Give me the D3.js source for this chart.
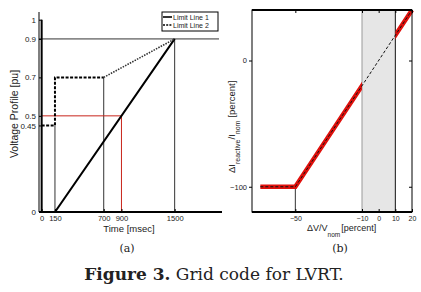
<!DOCTYPE html>
<html>
<head>
<meta charset="utf-8">
<script src="https://cdn.jsdelivr.net/npm/d3@7"></script>
<style>
  body { margin: 0; background: #fff; }
  svg text { font-family: "Liberation Sans", Arial, sans-serif; fill: #222; }
  .serif { font-family: "DejaVu Serif", "Liberation Serif", serif; }
</style>
</head>
<body>
<div id="chart"></div>
<script>

// ---- panel (a): voltage profile limit lines
const timeTicks = [0, 150, 700, 900, 1500];
const voltTicks = [0, 0.45, 0.5, 0.7, 0.9, 1];
const limitLine1 = [[0, 1], [0, 0], [150, 0], [1500, 0.9]];
const limitLine2 = [[0, 0.45], [150, 0.45], [150, 0.7], [700, 0.7]];
const limitLine2Ramp = [[700, 0.7], [1500, 0.9]];
const redGuide = [[0, 0.5], [900, 0.5], [900, 0]];
const blackGuides = [
    [[150, 0.45], [150, 0]],
    [[700, 0.7], [700, 0]],
    [[1500, 0.9], [1500, 0]],
    [[-30, 0.9], [2000, 0.9]]
];
const legendNames = ["Limit Line 1", "Limit Line 2"];

// ---- panel (b): reactive current characteristic
const dvTicks = [-50, -10, 0, 10, 20];
const diTicks = [-100, 0];
const characteristic = [[-71, -100], [-50, -100], [20, 40]];
const deadBand = [-10, 10];
const kneeGuide = [[-50, -100], [-50, -120]];

function lvrtFigure(options) {

    const {
        parentId = 'chart',
        width = 421,
        height = 292
    } = options;

    var svg = d3.select('#' + parentId)
        .append('svg')
        .attr('width', width)
        .attr('height', height);

    // ================= (a)
    var xa = d3.scaleLinear().domain([-30, 2000]).range([39, 219]);
    var ya = d3.scaleLinear().domain([0, 1.04]).range([212, 12]);
    var la = d3.line().x(d => xa(d[0])).y(d => ya(d[1]));

    var ga = svg.append("g");

    blackGuides.forEach(g => {
        ga.append("path").attr("d", la(g))
            .attr("fill", "none").attr("stroke", "#333").attr("stroke-width", 1);
    });

    ga.append("path").attr("d", la(redGuide))
        .attr("fill", "none").attr("stroke", "#c8241a").attr("stroke-width", 1);

    ga.append("path").attr("d", la(limitLine1))
        .attr("fill", "none").attr("stroke", "#000").attr("stroke-width", 2);

    ga.append("path").attr("d", la(limitLine2))
        .attr("fill", "none").attr("stroke", "#000").attr("stroke-width", 2)
        .attr("stroke-dasharray", "3,1.5");

    ga.append("path").attr("d", la(limitLine2Ramp))
        .attr("fill", "none").attr("stroke", "#333").attr("stroke-width", 1.6)
        .attr("stroke-dasharray", "1.5,1.2");

    // axes
    ga.append("g")
        .attr("transform", "translate(" + xa(-30) + ",0)")
        .call(d3.axisLeft(ya).tickValues(voltTicks).tickFormat(d3.format("")).tickSizeInner(-3).tickSizeOuter(0).tickPadding(3))
        .call(g => g.select(".domain").remove())
        .call(g => g.selectAll("text").style("font-size", "8px"));

    ga.append("line")
        .attr("x1", xa(-30)).attr("x2", xa(-30))
        .attr("y1", ya(1.04)).attr("y2", ya(0))
        .attr("stroke", "#000").attr("stroke-width", 1);

    ga.append("g")
        .attr("transform", "translate(0," + ya(0) + ")")
        .call(d3.axisBottom(xa).tickValues(timeTicks).tickFormat(d3.format("d")).tickSizeInner(-3).tickSizeOuter(0).tickPadding(4))
        .call(g => g.select(".domain").remove())
        .call(g => g.selectAll("text").style("font-size", "7.6px"));

    ga.append("line")
        .attr("x1", xa(-30)).attr("x2", 222)
        .attr("y1", ya(0)).attr("y2", ya(0))
        .attr("stroke", "#000").attr("stroke-width", 2);

    ga.append("text")
        .attr("transform", "translate(18," + 114 + ") rotate(-90)")
        .attr("text-anchor", "middle")
        .style("font-size", "10.5px")
        .text("Voltage Profile [pu]");

    ga.append("text")
        .attr("x", 129).attr("y", 232)
        .attr("text-anchor", "middle")
        .style("font-size", "9.5px")
        .text("Time [msec]");

    // legend
    var lg = ga.append("g").attr("transform", "translate(162,12)");
    lg.append("rect").attr("width", 56).attr("height", 19)
        .attr("fill", "#fff").attr("stroke", "#000").attr("stroke-width", 1);
    legendNames.forEach((n, i) => {
        lg.append("line").attr("x1", 1).attr("x2", 10)
            .attr("y1", 5 + i * 8).attr("y2", 5 + i * 8)
            .attr("stroke", "#000").attr("stroke-width", 1.6)
            .attr("stroke-dasharray", i ? "2,1.2" : null);
        lg.append("text").attr("x", 11).attr("y", 7.5 + i * 8)
            .style("font-size", "7px").text(n);
    });

    // ================= (b)
    var xb = d3.scaleLinear().domain([-76, 20]).range([252, 412]);
    var yb = d3.scaleLinear().domain([-120, 40]).range([212, 10]);
    var lb = d3.line().x(d => xb(d[0])).y(d => yb(d[1]));

    var gb = svg.append("g");

    gb.append("rect")
        .attr("x", xb(deadBand[0])).attr("y", yb(40))
        .attr("width", xb(deadBand[1]) - xb(deadBand[0]))
        .attr("height", yb(-120) - yb(40))
        .attr("fill", "#e6e6e6");
    gb.append("line")
        .attr("x1", xb(deadBand[0])).attr("x2", xb(deadBand[0]))
        .attr("y1", yb(40)).attr("y2", yb(-120))
        .attr("stroke", "#999").attr("stroke-width", 1);
    gb.append("line")
        .attr("x1", xb(deadBand[1])).attr("x2", xb(deadBand[1]))
        .attr("y1", yb(40)).attr("y2", yb(-120))
        .attr("stroke", "#111").attr("stroke-width", 1);

    gb.append("path").attr("d", lb(kneeGuide))
        .attr("fill", "none").attr("stroke", "#333").attr("stroke-width", 1);

    var defs = svg.append("defs");
    var clip = defs.append("clipPath").attr("id", "outsideBand");
    clip.append("rect")
        .attr("x", xb(-76)).attr("y", yb(40))
        .attr("width", xb(deadBand[0]) - xb(-76)).attr("height", yb(-120) - yb(40));
    clip.append("rect")
        .attr("x", xb(deadBand[1])).attr("y", yb(40))
        .attr("width", xb(20) - xb(deadBand[1]) + 2).attr("height", yb(-120) - yb(40));

    gb.append("path").attr("d", lb(characteristic))
        .attr("clip-path", "url(#outsideBand)")
        .attr("fill", "none").attr("stroke", "#e0100c").attr("stroke-width", 4.5);

    gb.append("path").attr("d", lb(characteristic))
        .attr("fill", "none").attr("stroke", "#111").attr("stroke-width", 1)
        .attr("stroke-dasharray", "3,2");

    // frame and axes
    gb.append("g")
        .attr("transform", "translate(" + xb(-76) + ",0)")
        .call(d3.axisLeft(yb).tickValues(diTicks).tickSizeInner(3).tickSizeOuter(0).tickPadding(2))
        .call(g => g.select(".domain").remove())
        .call(g => g.selectAll("text").style("font-size", "7.5px"));
    gb.append("g")
        .attr("transform", "translate(" + xb(20) + ",0)")
        .call(d3.axisLeft(yb).tickValues(diTicks).tickSizeInner(3).tickSizeOuter(0).tickFormat(""))
        .call(g => g.select(".domain").remove());
    gb.append("g")
        .attr("transform", "translate(0," + yb(-120) + ")")
        .call(d3.axisBottom(xb).tickValues(dvTicks).tickSizeInner(-3).tickSizeOuter(0).tickPadding(4))
        .call(g => g.select(".domain").remove())
        .call(g => g.selectAll("text").style("font-size", "7px"));
    gb.append("g")
        .attr("transform", "translate(0," + yb(40) + ")")
        .call(d3.axisTop(xb).tickValues(dvTicks).tickSizeInner(-3).tickSizeOuter(0).tickFormat(""))
        .call(g => g.select(".domain").remove());

    gb.append("rect")
        .attr("x", xb(-76)).attr("y", yb(40))
        .attr("width", xb(20) - xb(-76)).attr("height", yb(-120) - yb(40))
        .attr("fill", "none").attr("stroke", "#000").attr("stroke-width", 1);
    [40, -120].forEach(v => {
        gb.append("line")
            .attr("x1", xb(-76)).attr("x2", xb(20))
            .attr("y1", yb(v)).attr("y2", yb(v))
            .attr("stroke", "#000").attr("stroke-width", 2);
    });

    var xt = gb.append("text")
        .attr("x", 307).attr("y", 231)
        .style("font-size", "9px");
    xt.append("tspan").text("\u0394V/V");
    xt.append("tspan").attr("dy", 6).style("font-size", "6.5px").text("nom");
    xt.append("tspan").attr("dy", -6).attr("dx", 1).text("[percent]");

    var yt = gb.append("text")
        .attr("transform", "translate(235,173) rotate(-90)")
        .style("font-size", "9.5px");
    yt.append("tspan").text("\u0394I");
    yt.append("tspan").attr("dy", 5).style("font-size", "7px").text("reactive");
    yt.append("tspan").attr("dy", -5).text("/I");
    yt.append("tspan").attr("dy", 5).style("font-size", "7px").text("nom");
    yt.append("tspan").attr("dy", -5).attr("dx", 3).text("[percent]");

    // ================= labels and caption
    svg.append("text").attr("class", "serif")
        .attr("x", 127).attr("y", 252).attr("text-anchor", "middle")
        .style("font-size", "11px").text("(a)");
    svg.append("text").attr("class", "serif")
        .attr("x", 340).attr("y", 252).attr("text-anchor", "middle")
        .style("font-size", "11px").text("(b)");

    var cap = svg.append("text").attr("class", "serif")
        .attr("x", 214).attr("y", 280).attr("text-anchor", "middle")
        .style("font-size", "17px");
    cap.append("tspan").style("font-weight", "bold").text("Figure 3.");
    cap.append("tspan").text(" Grid code for LVRT.");

    return {
        chart: svg
    };
}

lvrtFigure({ parentId: 'chart' });
</script>
</body>
</html>
